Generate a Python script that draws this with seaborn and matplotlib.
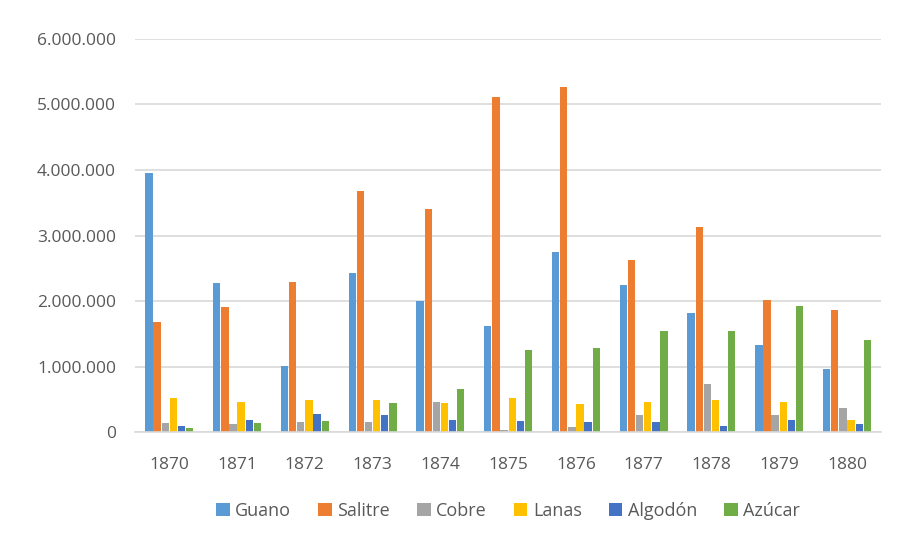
import matplotlib
matplotlib.use("Agg")
import matplotlib.pyplot as plt
import matplotlib.ticker as mticker
import seaborn as sns
import pandas as pd

years = ["1870", "1871", "1872", "1873", "1874", "1875", "1876", "1877", "1878", "1879", "1880"]
guano = [3950000, 2270000, 1010000, 2430000, 2000000, 1620000, 2750000, 2240000, 1820000, 1330000, 970000]
salitre = [1680000, 1910000, 2290000, 3680000, 3400000, 5110000, 5260000, 2630000, 3130000, 2010000, 1870000]
cobre = [140000, 120000, 150000, 150000, 460000, 40000, 80000, 260000, 730000, 260000, 370000]
lanas = [520000, 460000, 490000, 490000, 440000, 520000, 430000, 460000, 490000, 460000, 190000]
algodon = [90000, 180000, 280000, 260000, 190000, 170000, 160000, 160000, 90000, 190000, 120000]
azucar = [60000, 140000, 170000, 440000, 660000, 1260000, 1280000, 1550000, 1550000, 1930000, 1410000]

series = {"Guano": guano, "Salitre": salitre, "Cobre": cobre,
          "Lanas": lanas, "Algodón": algodon, "Azúcar": azucar}
colors = ["#5B9BD5", "#ED7D31", "#A5A5A5", "#FFC000", "#4472C4", "#70AD47"]

rows = []
for name, vals in series.items():
    for y, v in zip(years, vals):
        rows.append({"year": y, "product": name, "value": v})
df = pd.DataFrame(rows)

sns.set_style("white")
plt.rcParams['font.family'] = ['Open Sans', 'DejaVu Sans']

fig, ax = plt.subplots(figsize=(8.97, 5.39), dpi=100)
fig.subplots_adjust(left=0.151, right=0.982, top=0.928, bottom=0.198)

sns.barplot(data=df, x="year", y="value", hue="product", palette=colors,
            width=0.72, gap=0.1, saturation=1, linewidth=0, ax=ax, legend=True)

ax.set_ylim(0, 6000000)
ax.yaxis.set_major_locator(mticker.MultipleLocator(1000000))
ax.yaxis.set_major_formatter(mticker.FuncFormatter(lambda v, p: f"{int(v):,}".replace(",", ".")))
ax.grid(axis="y", color="#D9D9D9", linewidth=1.2)
ax.set_axisbelow(True)
for s in ["top", "right", "left"]:
    ax.spines[s].set_visible(False)
ax.spines["bottom"].set_color("#D9D9D9")
ax.spines["bottom"].set_linewidth(1.2)
ax.tick_params(axis="y", length=0, labelsize=12.5, labelcolor="#595959", pad=14)
ax.tick_params(axis="x", length=0, labelsize=12.5, labelcolor="#595959", pad=18)
ax.set_xlabel("")
ax.set_ylabel("")

ax.legend(loc="upper center", bbox_to_anchor=(0.5, -0.135), ncol=6, frameon=False,
          fontsize=13, handlelength=0.75, handleheight=0.75, handletextpad=0.3,
          columnspacing=1.5, labelcolor="#595959")

fig.savefig("out.png", dpi=100)
